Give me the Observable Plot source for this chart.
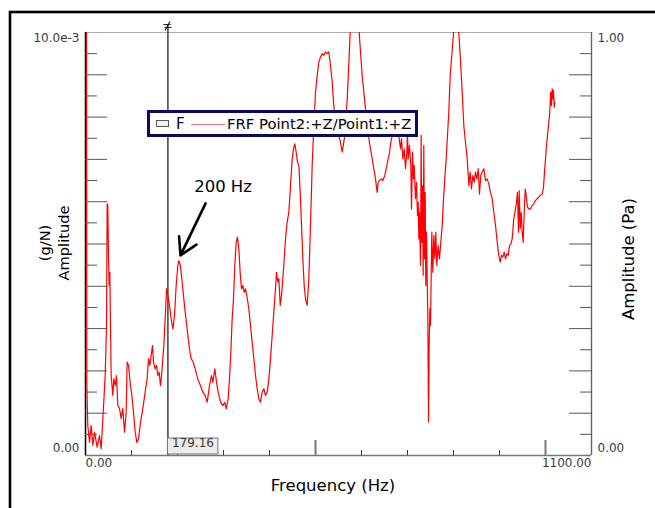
<!DOCTYPE html>
<html><head><meta charset="utf-8">
<script src="https://cdn.jsdelivr.net/npm/d3@7"></script>
<script src="https://cdn.jsdelivr.net/npm/@observablehq/plot@0.6"></script>
<style>body{margin:0;background:#fff}#chart svg{display:block}</style>
</head><body><div id="chart"></div>
<script>
// Frequency (Hz) and FRF amplitude (units of 1e-3 g/N)
const freq = [1,2,2.9,5,8.7,12.3,16,19.6,25.4,30.4,34,37.7,42.8,45.7,47.1,48.5,50,51.5,52.9,54.3,55.8,59.4,61.6,64.5,67.4,70.3,74,77.5,81,84.8,88.4,90.6,93.5,97.8,100.7,105,108,111.6,115.2,119.6,124.6,129.7,134,137,139.8,142.8,145.7,147.8,151.5,154.3,157.2,160.1,163,166,170.3,174,176,179,182.6,186.2,189.9,193.5,197.1,200.7,202.9,206.5,209.4,213,216.7,221,226,229.7,234,238.4,244.1,250,255,260.1,264.5,269.6,273.9,276.8,281.2,284.8,288.4,293.5,298.6,302.9,305.8,310.1,313,316,318.8,321.7,324.6,327.5,330.4,333.3,336.2,339.1,342,345,347.8,351.4,355,358.7,362.3,366,369.6,373.2,376.8,380.4,384.1,387.7,391.3,395,398.6,402.2,405.8,409.4,413,415.2,418.1,420.3,423.3,426.1,429,432,434.8,438.4,442,445.7,449.3,452.2,455,458,460.9,463.8,466.7,469.6,472.5,475.4,478.3,481.9,485.5,489.1,492.8,496.4,500,503.7,507.2,510.9,514.5,518,521.7,526,528.9,532.6,536.3,539.8,543.5,547.2,550.7,554.3,558,563.8,569,572.6,576,580,585,590,594,597.8,601.5,605,608.7,612.4,616,619.6,623.3,626.7,630.4,634,636.2,639,643.5,646.4,650.7,653.7,658,661,663.8,666.7,670,674,677.5,681,684.8,687,690,692.8,695.7,698.5,700,701.4,704.3,707.2,708.7,710.9,713,714.5,717.4,719.6,721.7,723.3,724.6,726,728.3,729.7,731,732.6,734.1,735.4,737,738.5,739.8,741.3,742.8,744.2,745.7,747.1,748.5,750,751.5,752.8,755,757.2,759.4,761.5,763.7,766.7,769.6,772.4,775.4,778.3,781,784.1,787,789.8,792.8,795.7,798.5,801.5,806,811.5,815,818.9,822.4,826,829.8,833.3,836.2,839.1,842,845,847.8,850.7,853.7,856.5,859.3,862.4,865.9,869.6,873.2,876.7,880.4,884.1,887.6,891.3,895,898.5,901.5,904.3,907.2,910.2,913,916,919,921.7,924.6,927.6,931,934.8,937,939,941.3,942.8,945,947.2,949.3,951.5,953.7,956,958,960.9,963.8,967.4,971,974.6,978.3,981.9,985.5,989,992.8,995.7,997.8,1000,1002.2,1004.3,1006.5,1008.7,1010.2,1011.5,1013,1014.6,1016,1017.4,1019,1020.2];
const amp = [12,11,1.65,0.71,0.31,0.71,0.24,0.55,0.2,0.47,0.16,0.87,1.89,3.07,5.95,5.9,4.66,4.02,4.33,3.07,1.89,1.42,1.82,1.65,1.89,1.18,1.11,0.87,1.11,0.55,1.02,2.21,2.13,1.65,1.42,0.95,0.55,0.31,0.39,0.79,1.11,1.5,1.82,2.29,2.13,2.36,2.6,2.21,2.05,2.13,1.89,1.97,1.65,1.97,2.6,3.39,3.94,3.78,3.55,3.23,2.99,3.31,4.02,4.49,4.61,4.49,4.18,3.78,3.39,2.99,2.52,2.29,2.21,2.05,1.81,1.65,1.5,1.42,1.26,1.65,1.89,1.73,2.05,1.73,1.5,1.26,1.18,1.26,1.1,1.34,1.81,2.44,3.23,3.7,4.49,5.04,5.16,4.89,4.33,3.94,4.02,3.86,3.94,3.74,3.47,3.07,2.68,2.29,1.89,1.58,1.34,1.26,1.5,1.58,1.42,1.5,1.81,2.29,2.84,3.39,3.94,4.33,4.1,4.18,3.55,3.78,4.18,4.65,5.12,5.52,5.75,6.38,7.01,7.25,7.37,7.17,6.93,6.86,6.22,5.44,4.65,4.02,3.7,3.55,4.18,5.44,6.86,7.8,8.59,8.98,9.3,9.42,9.5,9.46,9.54,9.5,9.54,9.22,8.83,8.27,7.88,7.72,7.57,7.4,7.17,7.57,8.43,9.3,10.17,10.6,10.8,10.6,10.17,9.54,8.98,8.59,8.2,7.8,7.49,7.25,7.01,6.78,6.54,6.22,6.46,6.5,6.54,6.5,6.62,6.78,7.01,7.17,7.41,7.57,7.8,7.64,7.72,7.57,7.25,7.49,7.01,7.25,6.78,7.17,7.64,7.01,7.33,6.86,5.83,7.17,6.54,6.86,6.07,6.46,5.67,5.99,5.12,5.75,4.49,7.57,5.04,6.38,4.26,7.33,4.65,6.22,4.02,5.28,4.18,3.23,0.79,2.6,3.47,3.07,4.26,5.28,4.33,5.2,4.65,5.28,4.49,4.96,4.65,5.04,5.44,6.07,6.54,7.01,7.57,8.12,8.98,9.38,9.77,10.17,10.5,10.0,9.38,8.59,7.8,7.41,7.01,6.38,6.7,6.3,6.62,6.46,6.7,6.54,6.78,6.18,6.62,6.7,6.78,6.5,6.54,6.42,6.22,6.07,5.75,5.44,5.04,4.73,4.57,4.73,4.69,4.81,4.65,4.77,4.73,4.96,5.0,5.12,5.6,5.83,5.99,6.22,5.28,6.26,5.36,5.75,5.28,5.04,5.75,6.3,6.15,5.87,5.83,5.83,5.91,5.95,6.03,6.07,6.11,6.15,6.18,6.34,6.7,7.01,7.33,7.57,7.8,8.04,8.35,8.59,8.27,8.67,8.43,8.63,8.23,8.35];

const xDomain = [0, 1100];
const yDomain = [0, 10];
const xTicksMinor = [100, 200, 300, 400, 600, 700, 800, 900];
const xTicksMajor = [500, 1000];
const yTicksMajor = [1, 2, 3, 4, 5, 6, 7, 8, 9];
const yTicksMinor = [0.5, 1.5, 2.5, 3.5, 4.5, 5.5, 6.5, 7.5, 8.5, 9.5];
const xTickLabels = ["0.00", "1100.00"];
const yLeftLabels = ["0.00", "10.0e-3"];
const yRightLabels = ["0.00", "1.00"];
const cursorFreq = [179.16];
const annotations = [{label: "200 Hz", tx: 299, ty: 6.36, x1: 261, y1: 5.96, x2: 206.5, y2: 4.73}];
const seriesName = "FRF Point2:+Z/Point1:+Z";
const legendLabel = "F";
const xTitle = "Frequency (Hz)";
const yLeftTitle = ["(g/N)", "Amplitude"];
const yRightTitle = "Amplitude (Pa)";

const data = freq.map((f, i) => ({f, a: amp[i]}));
const FONT = "'DejaVu Sans', sans-serif";
const tickTxt = {fill: "#3a3a3a", fontSize: 12, fontFamily: FONT};

const plot = Plot.plot({
  width: 655, height: 508,
  marginLeft: 85, marginRight: 64, marginTop: 32, marginBottom: 53,
  x: {domain: xDomain, axis: null, label: null},
  y: {domain: yDomain, axis: null, label: null},
  style: {fontFamily: FONT, fontSize: "12px", background: "#fff", color: "#000"},
  marks: [
    Plot.ruleY([yDomain[1]], {stroke: "#aaa", strokeWidth: 1.2}),
    Plot.ruleX([xDomain[1]], {stroke: "#666", strokeWidth: 1.4}),
    Plot.ruleY([yDomain[0]], {stroke: "#777", strokeWidth: 1.6}),
    Plot.ruleX([xDomain[0]], {stroke: "#000", strokeWidth: 1.5}),
    Plot.axisY(yTicksMajor, {anchor: "left", tickSize: -22, tickFormat: () => "", stroke: "#555", label: null}),
    Plot.axisY(yTicksMinor, {anchor: "left", tickSize: -12, tickFormat: () => "", stroke: "#555", label: null}),
    Plot.axisY(yTicksMajor, {anchor: "right", tickSize: -23, tickFormat: () => "", stroke: "#555", label: null}),
    Plot.axisY(yTicksMinor, {anchor: "right", tickSize: -12, tickFormat: () => "", stroke: "#555", label: null}),
    Plot.axisX(xTicksMinor, {anchor: "bottom", tickSize: -5, tickFormat: () => "", stroke: "#333", label: null}),
    Plot.axisX(xTicksMajor, {anchor: "bottom", tickSize: -15, tickFormat: () => "", stroke: "#777", strokeWidth: 2, label: null}),
    Plot.ruleX(cursorFreq, {stroke: "#222", strokeWidth: 1.3, insetTop: -7}),
    Plot.line(data, {x: "f", y: "a", stroke: "#ff0000", strokeWidth: 1.2, clip: true}),
    Plot.arrow(annotations, {x1: "x1", y1: "y1", x2: "x2", y2: "y2", stroke: "#000", strokeWidth: 2.6, headLength: 16, headAngle: 60}),
    Plot.text(annotations, {x: "tx", y: "ty", text: "label", fontSize: 16.5, fill: "#000", fontFamily: FONT}),
    // y tick labels
    Plot.text([yDomain[1]], {y: d => d, text: () => yLeftLabels[1], frameAnchor: "left", textAnchor: "end", dx: -6, dy: 6, ...tickTxt}),
    Plot.text([yDomain[0]], {y: d => d, text: () => yLeftLabels[0], frameAnchor: "left", textAnchor: "end", dx: -6, dy: -7, ...tickTxt}),
    Plot.text([yDomain[1]], {y: d => d, text: () => yRightLabels[1], frameAnchor: "right", textAnchor: "start", dx: 6, dy: 6, ...tickTxt}),
    Plot.text([yDomain[0]], {y: d => d, text: () => yRightLabels[0], frameAnchor: "right", textAnchor: "start", dx: 6, dy: -7, ...tickTxt}),
    // x tick labels
    Plot.text([xDomain[0]], {x: d => d, text: () => xTickLabels[0], frameAnchor: "bottom", textAnchor: "start", dy: 11, ...tickTxt}),
    Plot.text([xDomain[1]], {x: d => d, text: () => xTickLabels[1], frameAnchor: "bottom", textAnchor: "end", dy: 11, ...tickTxt}),
    // cursor value
    Plot.text(cursorFreq, {x: d => d, text: d => d.toFixed(2), frameAnchor: "bottom", textAnchor: "middle", dx: 25, dy: -9, ...tickTxt})
  ]
});
document.getElementById("chart").appendChild(plot);

const svg = d3.select(plot);
const sx = plot.scale("x"), sy = plot.scale("y");
const svgBox = plot.getBoundingClientRect();

// box behind cursor label
svg.selectAll("text").filter(function () { return this.textContent === cursorFreq[0].toFixed(2); }).each(function () {
  const tb = this.getBoundingClientRect();
  const x0 = sx.apply(cursorFreq[0]);
  const right = tb.right - svgBox.left + 4;
  const y1 = sy.apply(yDomain[0]);
  svg.insert("rect", () => this.parentNode)
    .attr("x", x0).attr("y", y1 - 17).attr("width", Math.max(10, right - x0)).attr("height", 16)
    .attr("fill", "#ebebeb").attr("stroke", "#777").attr("stroke-width", 1);
});
// marker at top of cursor
{
  const cx = sx.apply(cursorFreq[0]), cy = sy.apply(yDomain[1]) - 6;
  svg.append("path").attr("d", `M${cx-4},${cy-1.5}H${cx+3} M${cx-3},${cy+1.5}H${cx+4} M${cx+2.5},${cy-4.5}L${cx-2.5},${cy+4.5}`)
    .attr("stroke", "#222").attr("stroke-width", 1.1).attr("fill", "none");
}
// outer frame
svg.append("rect").attr("x", 10).attr("y", 12).attr("width", 700).attr("height", 600)
  .attr("fill", "none").attr("stroke", "#000").attr("stroke-width", 2.6);
// legend
const lg = svg.append("g").attr("text-anchor", "start");
lg.append("rect").attr("x", 148.5).attr("y", 111.5).attr("width", 268).attr("height", 24)
  .attr("fill", "#fff").attr("stroke", "#0b0b5e").attr("stroke-width", 3);
lg.append("rect").attr("x", 156.5).attr("y", 120.5).attr("width", 12).attr("height", 6)
  .attr("fill", "#f2f2f2").attr("stroke", "#555").attr("stroke-width", 1);
lg.append("text").attr("x", 176).attr("y", 129).attr("text-anchor", "start").attr("font-size", 15).attr("font-family", FONT).attr("fill", "#000").text(legendLabel);
lg.append("line").attr("x1", 191).attr("x2", 225).attr("y1", 124.5).attr("y2", 124.5).attr("stroke", "#ff7070").attr("stroke-width", 1);
lg.append("text").attr("x", 227).attr("y", 129).attr("text-anchor", "start").attr("font-size", 14.8).attr("font-family", FONT).attr("fill", "#000").text(seriesName);
// axis titles
svg.append("text").attr("x", 333).attr("y", 491).attr("text-anchor", "middle").attr("font-size", 16.5)
  .attr("font-family", FONT).attr("fill", "#000").text(xTitle);
svg.append("text").attr("transform", "translate(50,243) rotate(-90)").attr("text-anchor", "middle").attr("font-size", 14.6)
  .attr("font-family", FONT).attr("fill", "#000").text(yLeftTitle[0]);
svg.append("text").attr("transform", "translate(68.6,243) rotate(-90)").attr("text-anchor", "middle").attr("font-size", 14.6)
  .attr("font-family", FONT).attr("fill", "#000").text(yLeftTitle[1]);
svg.append("text").attr("transform", "translate(634,259) rotate(-90)").attr("text-anchor", "middle").attr("font-size", 16.5)
  .attr("font-family", FONT).attr("fill", "#000").text(yRightTitle);
</script>
</body></html>
